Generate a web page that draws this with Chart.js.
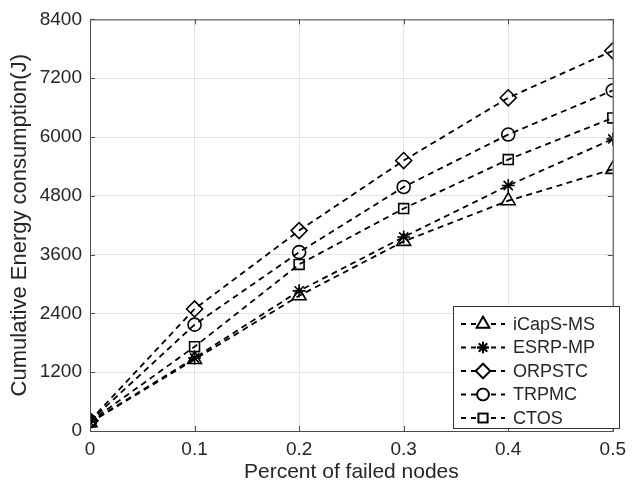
<!DOCTYPE html>
<html>
<head>
<meta charset="utf-8">
<script src="https://cdn.jsdelivr.net/npm/chart.js@4"></script>
<style>
  html, body { margin: 0; padding: 0; background: #fff; }
  #wrap { width: 633px; height: 488px; }
</style>
</head>
<body>
<div id="wrap"><canvas id="energyChart" width="633" height="488"></canvas></div>
<script>
// values
const failedRatio = [0, 0.1, 0.2, 0.3, 0.4, 0.5];
const icapsMs = [170, 1460, 2760, 3870, 4700, 5340];
const esrpMp  = [180, 1490, 2860, 3960, 5010, 5960];
const orpstc  = [210, 2490, 4090, 5520, 6800, 7760];
const trpmc   = [200, 2170, 3650, 4980, 6050, 6950];
const ctos    = [190, 1720, 3400, 4540, 5540, 6390];
const yTicks = [0, 1200, 2400, 3600, 4800, 6000, 7200, 8400];

const font = '"Liberation Sans", Arial, sans-serif';
const ink = '#262626';

function series(label, values, style, radius) {
  return {
    label: label,
    data: failedRatio.map((x, i) => ({ x: x, y: values[i] })),
    borderColor: '#000',
    backgroundColor: '#fff',
    borderWidth: 1.8,
    borderDash: [6, 4.5],
    pointStyle: style,
    pointRadius: radius,
    pointBorderWidth: 1.6,
    pointBackgroundColor: 'rgba(255,255,255,0)',
    pointBorderColor: '#000',
    tension: 0
  };
}

// MATLAB-like box, inward ticks and a legend with dashed lines
const boxPlugin = {
  id: 'boxPlugin',
  afterDraw(chart) {
    const { ctx, chartArea: a, scales } = chart;
    ctx.save();
    ctx.strokeStyle = '#4d4d4d';
    ctx.lineWidth = 1;
    ctx.strokeRect(a.left + 0.5, a.top + 0.5, a.right - a.left, a.bottom - a.top);
    ctx.beginPath();
    failedRatio.forEach(v => {
      const px = Math.round(scales.x.getPixelForValue(v)) + 0.5;
      ctx.moveTo(px, a.bottom); ctx.lineTo(px, a.bottom - 5);
      ctx.moveTo(px, a.top); ctx.lineTo(px, a.top + 5);
    });
    yTicks.forEach(v => {
      const py = Math.round(scales.y.getPixelForValue(v)) + 0.5;
      ctx.moveTo(a.left, py); ctx.lineTo(a.left + 5, py);
      ctx.moveTo(a.right, py); ctx.lineTo(a.right - 5, py);
    });
    ctx.stroke();

    // legend
    const lx = 453, ly = 306, lw = 166, lh = 122;
    ctx.fillStyle = '#fff';
    ctx.fillRect(lx, ly, lw, lh);
    ctx.strokeStyle = '#333';
    ctx.strokeRect(lx + 0.5, ly + 0.5, lw, lh);
    ctx.font = '18px ' + font;
    ctx.textBaseline = 'middle';
    chart.data.datasets.forEach((ds, i) => {
      const cy = ly + 18 + i * 23.5;
      ctx.strokeStyle = '#000';
      ctx.lineWidth = 1.8;
      ctx.setLineDash([5, 5]);
      ctx.beginPath();
      ctx.moveTo(lx + 8, cy); ctx.lineTo(lx + 52, cy);
      ctx.stroke();
      ctx.setLineDash([]);
      const opts = { pointStyle: ds.pointStyle, radius: ds.pointRadius * 0.9, borderWidth: 1.6, rotation: 0 };
      Chart.helpers.drawPoint(ctx, opts, lx + 30, cy);
      ctx.fillStyle = '#fff';
      ctx.fill();
      Chart.helpers.drawPoint(ctx, opts, lx + 30, cy);
      ctx.fillStyle = ink;
      ctx.fillText(ds.label, lx + 60, cy + 1);
    });
    ctx.restore();
  }
};

new Chart(document.getElementById('energyChart'), {
  type: 'line',
  data: {
    datasets: [
      series('iCapS-MS', icapsMs, 'triangle', 8),
      series('ESRP-MP', esrpMp, 'star', 6.5),
      series('ORPSTC', orpstc, 'rectRot', 8),
      series('TRPMC', trpmc, 'circle', 6.5),
      series('CTOS', ctos, 'rect', 7)
    ]
  },
  options: {
    responsive: false,
    animation: false,
    layout: { padding: { top: 19, right: 13, left: 0, bottom: 0 } },
    plugins: { legend: { display: false }, tooltip: { enabled: false } },
    scales: {
      x: {
        type: 'linear',
        min: 0, max: 0.5,
        afterBuildTicks: s => { s.ticks = failedRatio.map(v => ({ value: v })); },
        afterFit: s => { s.height = 57; },
        grid: { color: '#e3e3e3', drawTicks: false },
        border: { display: false },
        ticks: {
          padding: 7, color: ink,
          font: { family: font, size: 19 },
          callback: v => String(v)
        },
        title: {
          display: true, text: 'Percent of failed nodes', color: ink,
          font: { family: font, size: 21 }, padding: { top: 0, bottom: 3 }
        }
      },
      y: {
        min: 0, max: 8400,
        afterBuildTicks: s => { s.ticks = yTicks.map(v => ({ value: v })); },
        afterFit: s => { s.width = 90; },
        grid: { color: '#e3e3e3', drawTicks: false },
        border: { display: false },
        ticks: {
          padding: 8, color: ink,
          font: { family: font, size: 19 },
          callback: v => String(v)
        },
        title: {
          display: true, text: 'Cumulative Energy consumption(J)', color: ink,
          font: { family: font, size: 22 }, padding: { top: 7, bottom: 0 }
        }
      }
    }
  },
  plugins: [boxPlugin]
});
</script>
</body>
</html>
